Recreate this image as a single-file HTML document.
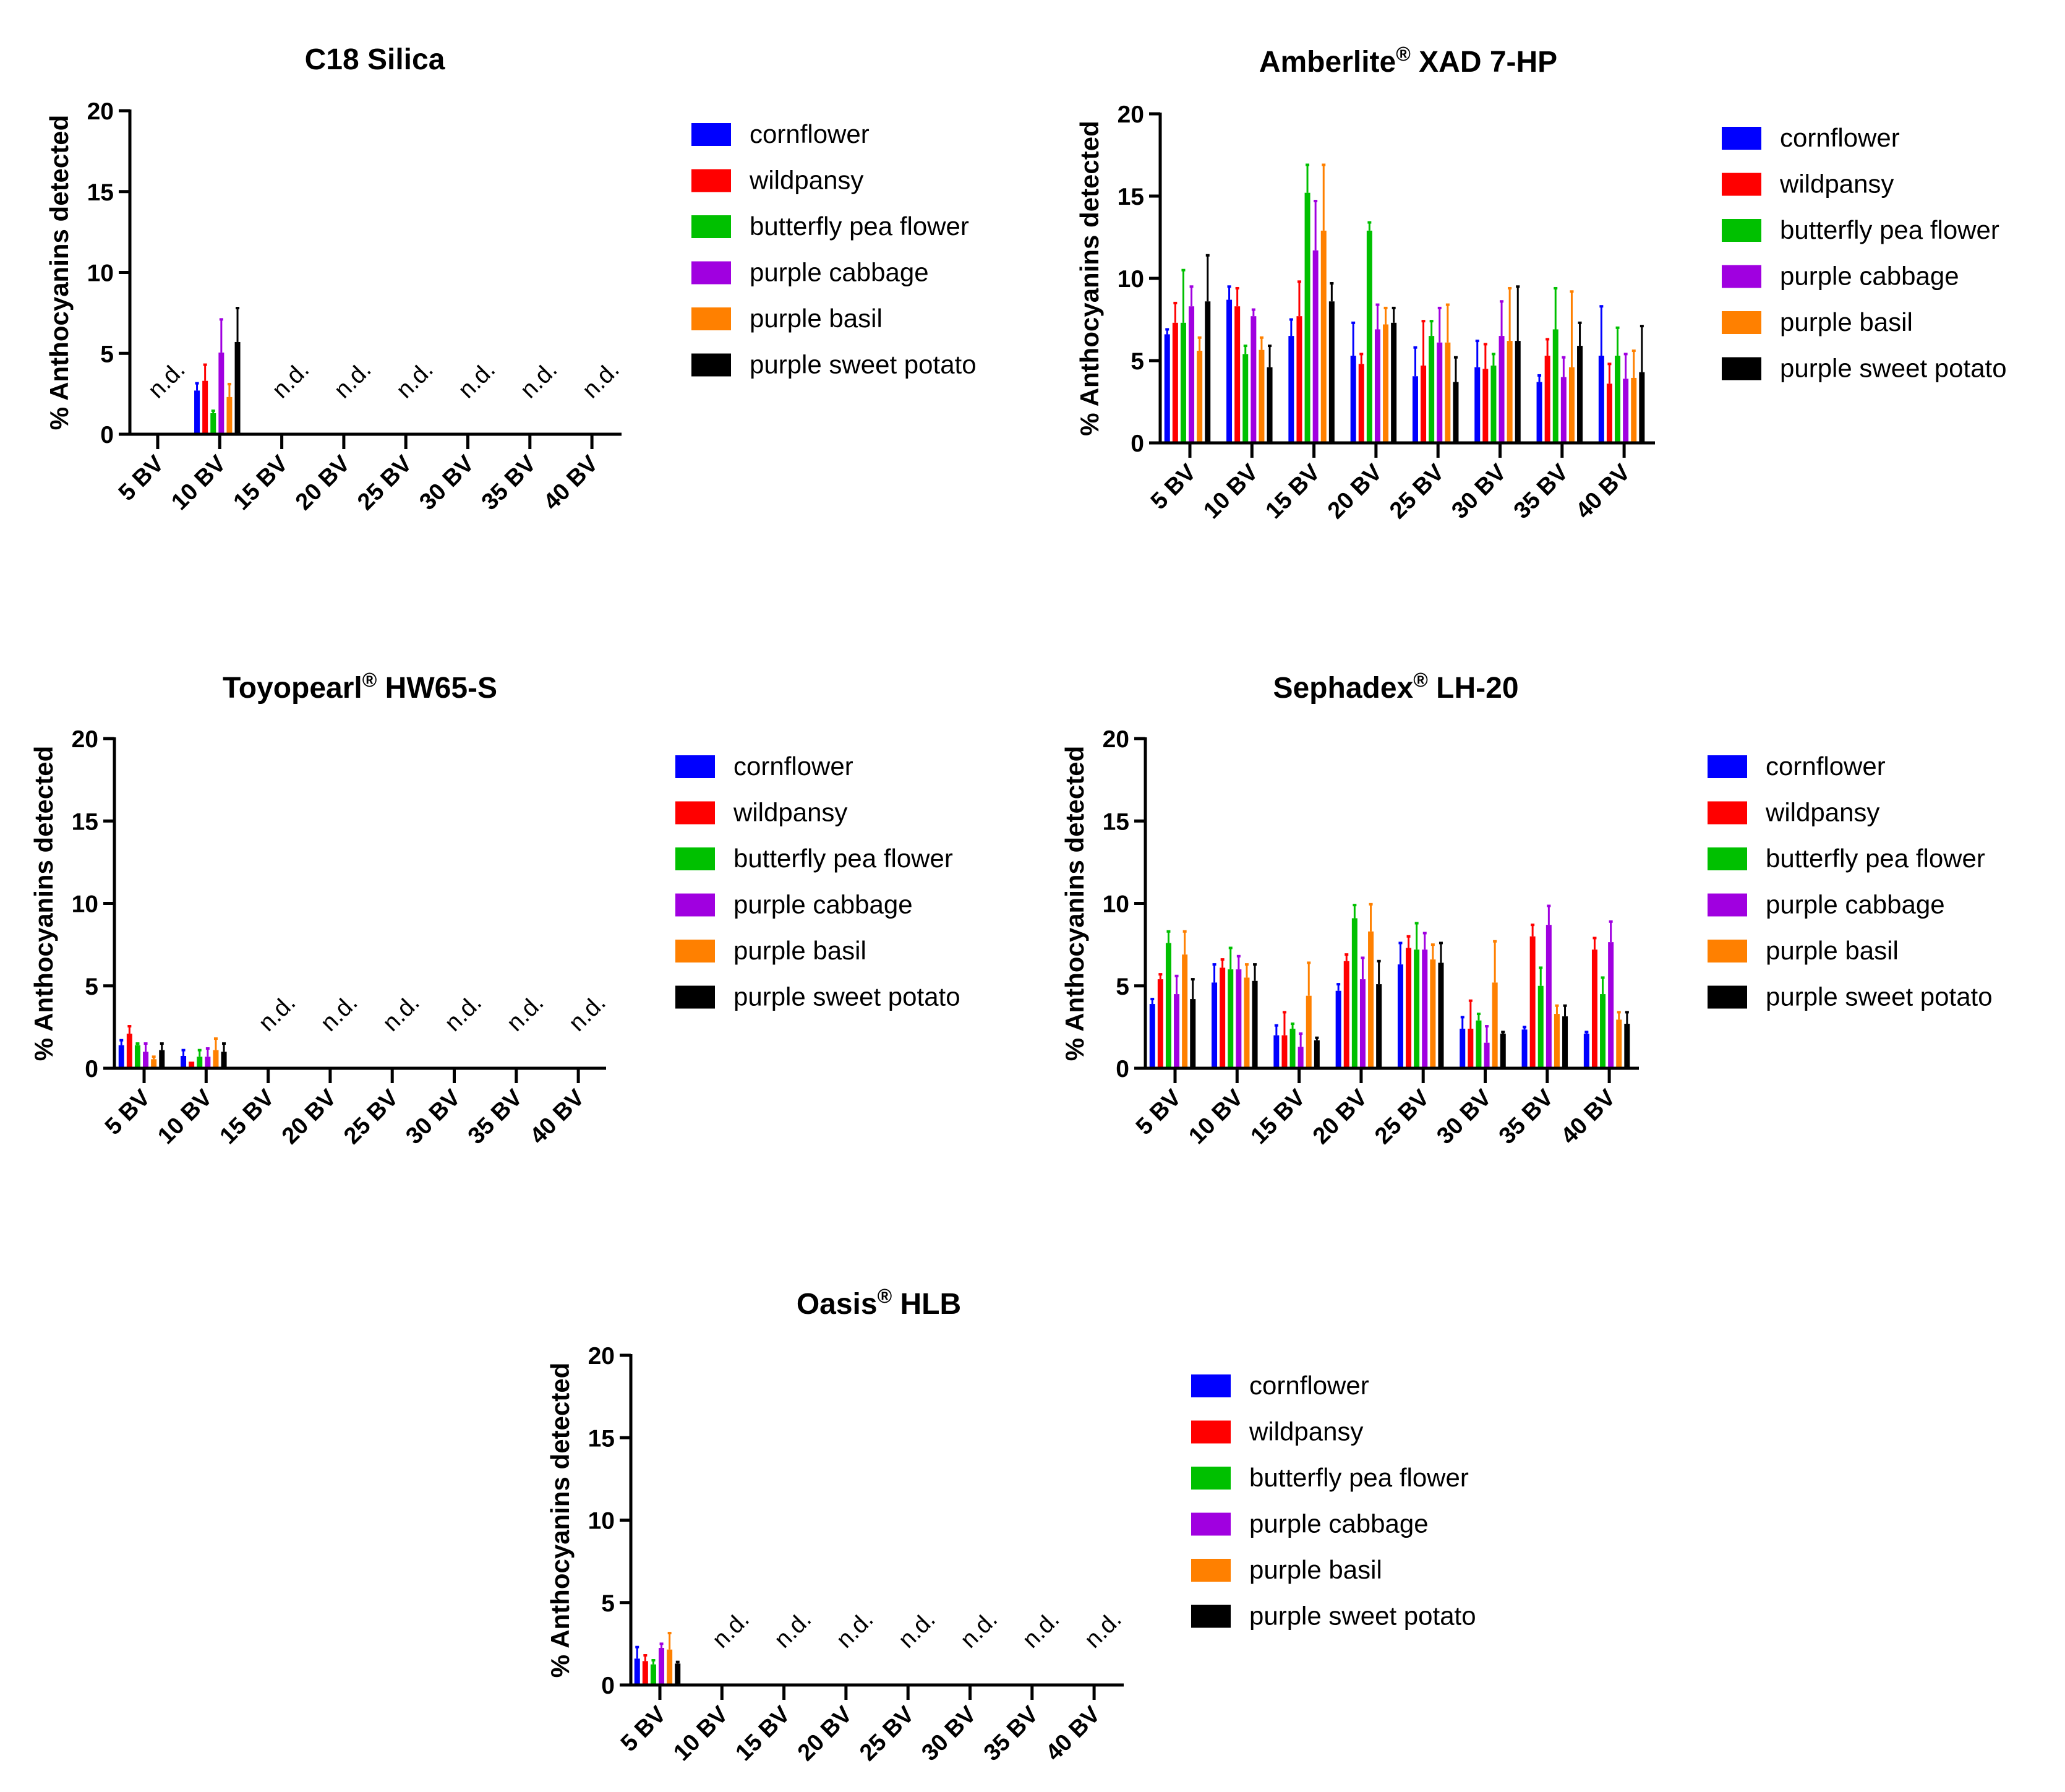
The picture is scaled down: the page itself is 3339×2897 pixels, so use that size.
<!DOCTYPE html>
<html><head><meta charset="utf-8"><style>
html,body{margin:0;padding:0;background:#fff}
svg{display:block;font-family:"Liberation Sans",Arial,sans-serif}
</style></head><body>
<svg id="fig" width="3339" height="2897" viewBox="0 0 3339 2897" xmlns="http://www.w3.org/2000/svg"></svg>
<script>
const categories = ["5 BV","10 BV","15 BV","20 BV","25 BV","30 BV","35 BV","40 BV"];
const seriesNames = ["cornflower","wildpansy","butterfly pea flower","purple cabbage","purple basil","purple sweet potato"];
const seriesColors = ["#0000ff","#ff0000","#00c000","#a000e0","#ff8000","#000000"];
const yTicks = [0,5,10,15,20];

// values per category, series order as seriesNames; null = n.d.
const c18Values = [null,[2.7,3.3,1.3,5.05,2.3,5.7],null,null,null,null,null,null];
const c18Errors = [null,[3.15,4.3,1.45,7.1,3.1,7.8],null,null,null,null,null,null];

const amberValues = [[6.6,7.3,7.3,8.3,5.6,8.6],[8.7,8.3,5.4,7.7,5.65,4.6],[6.5,7.7,15.2,11.7,12.9,8.6],[5.3,4.8,12.9,6.9,7.2,7.3],[4.05,4.7,6.5,6.1,6.1,3.7],[4.6,4.5,4.7,6.5,6.2,6.2],[3.7,5.3,6.9,4.0,4.6,5.9],[5.3,3.6,5.3,3.9,3.95,4.3]];
const amberErrors = [[6.9,8.5,10.5,9.5,6.4,11.4],[9.5,9.4,5.9,8.1,6.4,5.9],[7.5,9.8,16.9,14.7,16.9,9.7],[7.3,5.4,13.4,8.4,8.2,8.2],[5.8,7.4,7.4,8.2,8.4,5.2],[6.2,6.0,5.4,8.6,9.4,9.5],[4.1,6.3,9.4,5.2,9.2,7.3],[8.3,4.8,7.0,5.4,5.6,7.1]];

const toyoValues = [[1.4,2.1,1.4,1.0,0.55,1.1],[0.75,0.4,0.7,0.7,1.1,1.0],null,null,null,null,null,null];
const toyoErrors = [[1.7,2.55,1.5,1.5,0.7,1.5],[1.1,0.4,1.1,1.2,1.8,1.5],null,null,null,null,null,null];

const sephValues = [[3.9,5.4,7.6,4.5,6.9,4.2],[5.2,6.1,6.0,6.0,5.5,5.3],[2.0,2.0,2.4,1.3,4.4,1.7],[4.7,6.5,9.1,5.4,8.3,5.1],[6.3,7.3,7.2,7.2,6.6,6.4],[2.4,2.4,2.9,1.55,5.2,2.1],[2.35,8.0,5.0,8.7,3.3,3.15],[2.1,7.2,4.5,7.65,2.95,2.7]];
const sephErrors = [[4.2,5.7,8.3,5.6,8.3,5.4],[6.3,6.6,7.3,6.8,6.3,6.3],[2.6,3.4,2.7,2.1,6.4,1.85],[5.1,6.9,9.9,6.7,9.95,6.5],[7.6,8.0,8.8,8.2,7.5,7.6],[3.1,4.1,3.3,2.55,7.7,2.2],[2.5,8.7,6.1,9.85,3.8,3.8],[2.2,7.9,5.5,8.9,3.4,3.4]];

const oasisValues = [[1.6,1.45,1.25,2.25,2.15,1.3],null,null,null,null,null,null,null];
const oasisErrors = [[2.3,1.8,1.5,2.5,3.15,1.4],null,null,null,null,null,null,null];

const ndValue = 3.3;

const panels = [
 {id:"c18", title:"C18 Silica", reg:"", sub:"", ax:210, y20:179, y0:702, xend:1005, first:255, lx:1118, ly:217, tx:606, ty:112, v:c18Values, e:c18Errors},
 {id:"amberlite", title:"Amberlite", reg:"®", sub:" XAD 7-HP", ax:1876, y20:184, y0:716, xend:2676, first:1924, lx:2784, ly:223, tx:2277, ty:116, v:amberValues, e:amberErrors},
 {id:"toyopearl", title:"Toyopearl", reg:"®", sub:" HW65-S", ax:185, y20:1194, y0:1727, xend:980, first:233, lx:1092, ly:1239, tx:582, ty:1128, v:toyoValues, e:toyoErrors},
 {id:"sephadex", title:"Sephadex", reg:"®", sub:" LH-20", ax:1852, y20:1194, y0:1727, xend:2650, first:1900, lx:2761, ly:1239, tx:2257, ty:1128, v:sephValues, e:sephErrors},
 {id:"oasis", title:"Oasis", reg:"®", sub:" HLB", ax:1020, y20:2191, y0:2724, xend:1817, first:1067, lx:1926, ly:2240, tx:1421, ty:2124, v:oasisValues, e:oasisErrors}
];

const NS="http://www.w3.org/2000/svg";
const svg=document.getElementById('fig');
function mk(tag, attrs, parent){const el=document.createElementNS(NS,tag);for(const k in attrs)el.setAttribute(k,attrs[k]);(parent||svg).appendChild(el);return el;}

const band=100.3, barStep=13.1, barW=9;
panels.forEach(p=>{
  const g=mk('g',{});
  
  
  const yS=v=>p.y0-(v/20)*(p.y0-p.y20);
  const xS=i=>p.first+i*band;
  const t=mk('text',{x:p.tx,y:p.ty,'text-anchor':'middle','font-size':48,'font-weight':'bold'},g);
  
  
  t.appendChild(document.createTextNode(p.title));
  if(p.reg){const r=mk('tspan',{'font-size':32,dy:-18},t);r.textContent=p.reg;const s=mk('tspan',{dy:18},t);s.textContent=p.sub;}
  p.v.forEach((grp,i)=>{
    if(grp===null){
      const cx=xS(i)+16, cy=yS(ndValue);
      const nd=mk('text',{x:cx,y:cy,'text-anchor':'middle','dominant-baseline':'middle','font-size':39,transform:`rotate(-45 ${cx} ${cy})`},g);
      
      
      nd.textContent="n.d.";
      return;
    }
    grp.forEach((val,j)=>{
      const bx=xS(i)-4-(2.5-j)*barStep-barW/2;
      const top=yS(val);
      const b=mk('rect',{x:bx,y:top,width:barW,height:p.y0-top,fill:seriesColors[j]},g);
      
      
      const ev=p.e[i][j];
      if(ev>val){
        const ey=yS(ev), cx=bx+barW/2;
        const l=mk('line',{x1:cx,x2:cx,y1:top,y2:ey,stroke:seriesColors[j],'stroke-width':3},g);
        
        
        const c=mk('line',{x1:cx-3,x2:cx+3,y1:ey,y2:ey,stroke:seriesColors[j],'stroke-width':4},g);
        
        
      }
    });
  });
  const ya=mk('line',{x1:p.ax,x2:p.ax,y1:p.y20-2,y2:p.y0+2,stroke:'#000','stroke-width':5},g);
  
  
  const xa=mk('line',{x1:p.ax-18,x2:p.xend,y1:p.y0,y2:p.y0,stroke:'#000','stroke-width':5},g);
  
  
  yTicks.forEach(v=>{
    const y=yS(v);
    mk('line',{x1:p.ax-18,x2:p.ax,y1:y,y2:y,stroke:'#000','stroke-width':5},g);
    const tl=mk('text',{x:p.ax-26,y:y+14,'text-anchor':'end','font-size':39,'font-weight':'bold'},g);
    
    
    tl.textContent=v;
  });
  categories.forEach((c,i)=>{
    const x=xS(i);
    mk('line',{x1:x,x2:x,y1:p.y0,y2:p.y0+24,stroke:'#000','stroke-width':5},g);
    const ax=x+12, ay=p.y0+50;
    const xl=mk('text',{x:ax,y:ay,'text-anchor':'end','font-size':38,'font-weight':'bold',transform:`rotate(-45 ${ax} ${ay})`},g);
    
    
    xl.textContent=c;
  });
  const yt=mk('text',{x:0,y:0,'text-anchor':'middle','font-size':42,'font-weight':'bold',transform:`translate(${p.ax-100},${(p.y20+p.y0)/2}) rotate(-90)`},g);
  
  
  yt.textContent="% Anthocyanins detected";
  seriesNames.forEach((n,j)=>{
    const y=p.ly+j*74.5;
    const lg=mk('g',{},g);
    
    
    mk('rect',{x:p.lx,y:y-18,width:64,height:37,fill:seriesColors[j]},lg);
    const lt=mk('text',{x:p.lx+94,y:y+14,'font-size':42},lg);
    lt.textContent=n;
  });
});
</script>
</body></html>
